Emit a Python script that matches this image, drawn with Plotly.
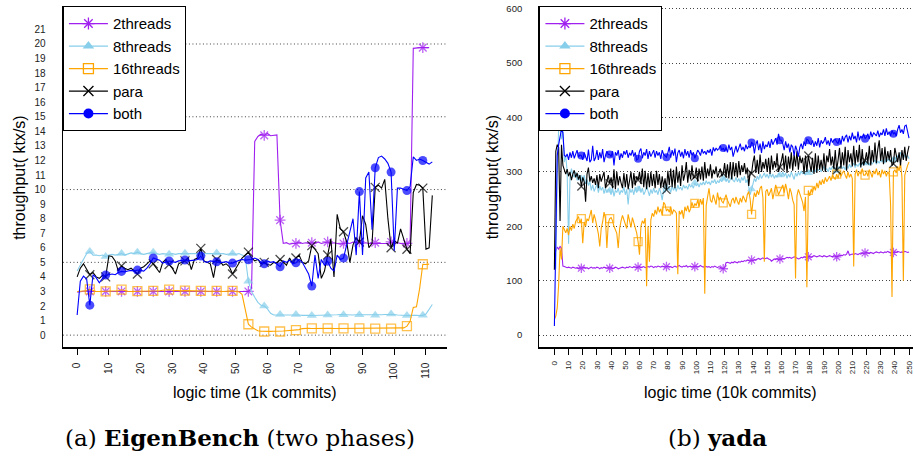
import plotly.graph_objects as go

# ---------------- data: left panel (EigenBench), x = logic time in 1k commits ----------------
series_names = ["2threads", "8threads", "16threads", "para", "both"]

eigen_2threads = [
    2.95, 3.0, 3.0, 3.05, 3.0, 3.0, 2.98, 3.02, 3.0, 3.0,
    3.02, 3.0, 2.98, 3.0, 3.0, 3.02, 3.0, 3.0, 2.98, 3.0,
    3.0, 3.02, 3.0, 3.0, 3.0, 2.98, 3.0, 3.02, 3.0, 3.0,
    3.0, 3.0, 2.98, 3.0, 3.0, 3.02, 3.0, 3.0, 3.0, 3.0,
    2.98, 3.0, 3.02, 3.0, 3.0, 3.0, 3.0, 3.0, 2.98, 3.0,
    3.0, 3.02, 3.0, 3.0, 3.0, 3.2, 13.3, 13.65, 13.8, 13.72,
    13.85, 13.7, 13.75, 13.75, 7.9, 6.3, 6.35, 6.25, 6.3, 6.3,
    6.4, 6.3, 6.35, 6.3, 6.35, 6.3, 6.4, 6.3, 6.35, 6.4,
    6.3, 6.35, 6.3, 6.25, 6.3, 6.35, 6.3, 6.4, 6.35, 6.4,
    6.3, 6.35, 6.3, 6.3, 6.35, 6.3, 6.35, 6.3, 6.3, 6.4,
    6.3, 6.35, 6.3, 6.25, 6.3, 6.35, 19.7, 19.75, 19.75, 19.75,
    19.75, 19.75,
]
eigen_8threads = [
    4.4, 4.8, 5.3, 5.6, 5.75, 5.5, 5.5, 5.45, 5.5, 5.4,
    5.5, 5.55, 5.5, 5.55, 5.6, 5.5, 5.6, 5.65, 5.6, 5.7,
    5.6, 5.55, 5.6, 5.65, 5.7, 5.6, 5.55, 5.6, 5.55, 5.55,
    5.6, 5.55, 5.6, 5.6, 5.62, 5.6, 5.65, 5.6, 5.6, 5.6,
    5.62, 5.6, 5.65, 5.6, 5.65, 5.6, 5.6, 5.55, 5.6, 5.6,
    5.55, 5.6, 5.5, 5.4, 3.7, 3.0, 2.6, 2.25, 2.05, 2.0,
    1.8, 1.5, 1.38, 1.38, 1.42, 1.4, 1.38, 1.4, 1.4, 1.42,
    1.38, 1.36, 1.38, 1.36, 1.35, 1.35, 1.36, 1.38, 1.36, 1.38,
    1.4, 1.38, 1.4, 1.42, 1.4, 1.4, 1.38, 1.38, 1.4, 1.4,
    1.38, 1.36, 1.36, 1.38, 1.36, 1.38, 1.4, 1.42, 1.42, 1.45,
    1.42, 1.38, 1.36, 1.35, 1.35, 1.36, 1.38, 1.36, 1.35, 1.36,
    1.45, 1.75, 2.1,
]
eigen_16threads = [
    3.0, 3.0, 3.02, 3.05, 3.15, 3.05, 3.0, 3.0, 3.0, 3.0,
    3.0, 3.02, 3.05, 3.05, 3.12, 3.05, 3.02, 3.0, 3.0, 3.02,
    3.0, 3.0, 3.02, 3.0, 3.04, 3.02, 3.05, 3.08, 3.1, 3.12,
    3.08, 3.05, 3.05, 3.04, 3.06, 3.05, 3.04, 3.02, 3.02, 3.04,
    3.02, 3.0, 3.02, 3.02, 3.04, 3.02, 3.0, 3.02, 3.02, 3.04,
    3.0, 2.98, 2.8, 1.8, 0.75, 0.55, 0.4, 0.3, 0.27, 0.25,
    0.25, 0.26, 0.27, 0.26, 0.25, 0.28, 0.3, 0.32, 0.34, 0.35,
    0.38, 0.45, 0.48, 0.47, 0.46, 0.47, 0.48, 0.47, 0.46, 0.47,
    0.47, 0.46, 0.46, 0.47, 0.47, 0.48, 0.47, 0.46, 0.46, 0.47,
    0.46, 0.47, 0.46, 0.45, 0.45, 0.46, 0.47, 0.46, 0.45, 0.45,
    0.46, 0.45, 0.47, 0.5, 0.62, 0.95, 1.9, 1.95, 3.2, 4.87,
    4.85, 4.88,
]
eigen_para = [
    4.0, 4.6, 4.9, 4.5, 4.15, 4.3, 4.0, 3.9, 4.1, 4.0,
    5.45, 5.4, 5.1, 4.4, 4.75, 4.6, 4.5, 4.6, 4.4, 4.2,
    4.6, 4.7, 4.9, 5.1, 4.9, 4.6, 4.3, 5.0, 5.2, 4.85,
    4.6, 4.2, 4.9, 5.0, 5.1, 5.3, 4.5, 5.2, 5.3, 5.96,
    5.1, 5.0, 4.9, 3.95, 5.2, 5.1, 4.8, 4.9, 4.7, 4.2,
    4.6, 4.9, 5.3, 5.5, 5.7, 5.3, 5.1, 5.2, 4.9, 5.0,
    4.85, 4.8, 5.0, 4.95, 5.2, 5.05, 4.8, 5.3, 4.9, 5.3,
    5.5, 5.0, 4.9, 5.1, 6.15, 5.9, 5.6, 3.9, 4.4, 5.5,
    6.6, 4.0, 8.3, 7.3, 7.1, 6.4, 5.0, 6.2, 6.7, 6.4,
    8.2, 7.6, 6.0, 6.3, 10.15, 10.3, 10.1, 10.7, 8.0, 6.0,
    6.5, 6.3, 7.3, 6.6, 5.9, 5.6, 9.8, 10.35, 10.3, 10.1,
    5.9, 6.0, 9.6,
]
eigen_both = [
    1.38, 3.7, 4.05, 3.85, 2.06, 4.15, 3.95, 3.6, 3.9, 4.13,
    4.15, 4.2, 4.15, 4.3, 4.38, 4.35, 4.4, 4.45, 4.4, 4.47,
    4.45, 4.4, 4.6, 4.9, 5.3, 5.2, 5.15, 4.95, 5.0, 5.09,
    5.05, 5.0, 5.1, 5.15, 5.16, 5.1, 5.1, 5.15, 5.2, 5.43,
    5.05, 5.0, 5.1, 5.05, 5.04, 5.0, 5.0, 5.05, 4.95, 4.95,
    5.05, 5.1, 5.2, 5.15, 5.18, 5.2, 5.3, 5.2, 5.0, 4.9,
    5.1, 5.0, 5.05, 4.9, 4.7, 5.1, 5.0, 5.15, 4.9, 4.97,
    5.2, 5.0, 4.6, 4.2, 3.37, 5.5, 3.9, 5.2, 4.8, 5.08,
    4.6, 4.4, 5.5, 5.2, 5.3, 6.2, 7.2, 8.0, 5.5, 9.86,
    5.5, 10.8, 11.2, 7.25, 11.5, 12.2, 12.3, 12.1, 11.8, 11.2,
    5.8, 10.1, 10.1, 10.0, 9.93, 10.2, 12.25, 12.0, 12.1, 12.0,
    11.9, 11.75, 11.9,
]

# ---------------- data: right panel (yada), x = logic time in 10k commits ----------------
yada_2threads = [
    148, 155, 162, 158, 163, 160, 127, 126, 125, 124,
    125, 124, 123, 125, 124, 123, 124, 122, 124, 123,
    124, 125, 123, 124, 122, 124, 125, 123, 124, 123,
    125, 124, 122, 124, 123, 125, 124, 123, 124, 123,
    124, 122, 123, 125, 124, 122, 123, 124, 125, 124,
    123, 125, 124, 126, 125, 124, 126, 125, 124, 125,
    126, 124, 125, 126, 124, 125, 126, 125, 127, 126,
    124, 126, 125, 127, 126, 125, 127, 126, 125, 126,
    127, 125, 126, 124, 126, 127, 125, 126, 128, 126,
    125, 127, 126, 128, 125, 126, 127, 125, 126, 126,
    127, 125, 126, 128, 126, 125, 127, 126, 125, 126,
    124, 126, 125, 127, 125, 124, 126, 124, 123, 122,
    124, 133, 134, 133, 132, 134, 133, 135, 134, 133,
    135, 134, 136, 135, 137, 136, 138, 137, 136, 138,
    137, 139, 138, 140, 141, 139, 141, 142, 140, 141,
    142, 140, 139, 136, 138, 140, 139, 141, 138, 140,
    139, 141, 140, 142, 143, 142, 143, 141, 142, 144,
    143, 142, 140, 141, 143, 142, 144, 143, 142, 144,
    145, 143, 144, 146, 145, 144, 145, 146, 145, 144,
    146, 145, 144, 145, 146, 145, 144, 146, 145, 144,
    145, 146, 147, 146, 148, 147, 149, 155, 147, 148,
    149, 148, 150, 149, 148, 150, 149, 151, 150, 151,
    152, 151, 150, 152, 151, 150, 152, 153, 152, 151,
    153, 152, 151, 153, 152, 154, 152, 151, 153, 152,
    153, 152, 154, 153, 152, 153, 152, 154, 153, 152,
    153,
]
yada_8threads = [
    150, 122, 300, 380, 382, 360, 376, 318, 330, 300,
    168, 288, 306, 295, 290, 300, 285, 295, 290, 288,
    282, 294, 278, 286, 275, 282, 266, 276, 264, 270,
    278, 262, 274, 266, 272, 260, 270, 262, 268, 266,
    258, 270, 255, 266, 262, 270, 258, 266, 262, 272,
    258, 268, 240, 270, 262, 268, 258, 272, 262, 268,
    274, 262, 270, 258, 264, 274, 262, 256, 268, 260,
    270, 262, 266, 258, 270, 262, 248, 268, 262, 272,
    266, 270, 262, 274, 266, 272, 264, 276, 268, 272,
    266, 276, 270, 274, 268, 278, 272, 276, 270, 280,
    274, 278, 272, 280, 276, 282, 276, 284, 278, 282,
    276, 284, 280, 286, 278, 284, 280, 286, 282, 288,
    290, 282, 288, 280, 286, 292, 284, 282, 290, 282,
    288, 280, 290, 284, 292, 280, 286, 270, 258, 268,
    278, 288, 282, 292, 286, 296, 288, 294, 298, 290,
    296, 288, 298, 290, 296, 288, 294, 290, 298, 294,
    292, 300, 292, 298, 288, 296, 290, 300, 292, 286,
    298, 292, 300, 294, 302, 296, 300, 294, 304, 298,
    302, 306, 298, 304, 300, 308, 302, 306, 300, 304,
    310, 302, 306, 300, 308, 304, 310, 304, 308, 302,
    310, 306, 312, 306, 310, 304, 312, 306, 314, 308,
    312, 316, 308, 314, 310, 316, 310, 318, 312, 316,
    314, 318, 312, 320, 314, 318, 322, 314, 320, 316,
    322, 318, 324, 316, 326, 320, 324, 318, 326, 322,
    328, 322, 330, 326, 336, 330, 324, 332, 326, 330,
    324,
]
yada_16threads = [
    29, 35, 50, 93, 160, 139, 200, 192, 188, 196,
    184, 200, 192, 204, 196, 209, 214, 218, 206, 214,
    169, 208, 200, 214, 210, 222, 230, 206, 222, 212,
    200, 186, 163, 196, 208, 226, 214, 160, 206, 214,
    216, 210, 200, 194, 187, 160, 196, 210, 220, 212,
    204, 196, 222, 210, 198, 216, 208, 200, 188, 172,
    148, 200, 210, 205, 215, 90, 200, 135, 212, 224,
    218, 230, 222, 236, 226, 232, 220, 244, 240, 228,
    232, 226, 236, 222, 230, 228, 224, 112, 228, 222,
    230, 214, 236, 228, 238, 226, 232, 244, 234, 242,
    238, 248, 236, 250, 240, 252, 76, 238, 256, 270,
    248, 244, 258, 250, 240, 262, 248, 254, 246, 243,
    250, 258, 248, 240, 236, 248, 252, 242, 254, 246,
    240, 252, 244, 256, 248, 244, 258, 264, 250, 222,
    246, 262, 254, 266, 258, 270, 274, 252, 135, 264,
    268, 256, 262, 270, 250, 262, 276, 268, 258, 264,
    270, 276, 262, 278, 266, 250, 270, 262, 248, 240,
    104, 256, 268, 260, 250, 244, 228, 254, 88, 266,
    256, 268, 262, 274, 266, 280, 270, 284, 276, 286,
    278, 290, 282, 288, 292, 284, 294, 290, 286, 296,
    288, 300, 292, 298, 302, 294, 288, 300, 290, 296,
    288, 126, 296, 304, 292, 300, 296, 306, 294, 294,
    300, 292, 304, 298, 290, 302, 296, 306, 294, 300,
    290, 304, 296, 302, 292, 300, 296, 240, 70, 300,
    304, 298, 310, 302, 316, 290, 100, 294, 306, 312,
    318,
]
yada_para = [
    120, 338, 350, 345, 210, 350, 312, 302, 296, 305,
    292, 300, 285, 296, 303, 290, 298, 286, 294, 273,
    290, 282, 245, 296, 308, 282, 292, 280, 288, 276,
    294, 270, 296, 282, 290, 300, 270, 286, 294, 279,
    290, 270, 305, 268, 300, 275, 292, 280, 270, 298,
    272, 296, 268, 284, 300, 270, 298, 275, 292, 285,
    300, 278, 306, 272, 302, 268, 298, 272, 300, 274,
    296, 270, 302, 276, 296, 270, 292, 272, 288, 267,
    302, 276, 306, 272, 304, 270, 310, 280, 300, 274,
    312, 284, 296, 318, 280, 304, 286, 312, 288, 291,
    308, 282, 306, 286, 310, 284, 318, 288, 306, 292,
    314, 288, 304, 296, 310, 290, 300, 306, 292, 297,
    316, 290, 314, 288, 318, 286, 318, 292, 316, 290,
    320, 294, 312, 300, 316, 296, 308, 274, 300, 297,
    318, 330, 298, 322, 296, 332, 300, 318, 306, 324,
    300, 326, 296, 330, 304, 320, 308, 334, 300, 309,
    320, 334, 304, 330, 298, 328, 306, 336, 302, 332,
    310, 338, 304, 330, 316, 326, 296, 330, 300, 330,
    314, 300, 326, 296, 334, 298, 330, 304, 322, 302,
    334, 300, 330, 318, 342, 312, 328, 306, 340, 303,
    322, 344, 306, 336, 312, 346, 302, 340, 318, 334,
    310, 348, 312, 340, 318, 350, 308, 342, 312, 321,
    336, 316, 348, 312, 340, 318, 354, 316, 342, 358,
    320, 344, 314, 346, 318, 338, 322, 340, 312, 315,
    344, 330, 318, 336, 312, 340, 322, 346, 320, 336,
    348,
]
yada_both = [
    17, 200, 330, 350, 362, 378, 372, 330, 328, 333,
    322, 336, 326, 338, 325, 333, 340, 327, 331, 330,
    322, 336, 328, 320, 341, 318, 322, 348, 320, 326,
    340, 322, 336, 325, 342, 318, 330, 338, 332, 332,
    328, 338, 312, 336, 330, 340, 322, 334, 326, 338,
    332, 340, 326, 335, 330, 340, 328, 336, 322, 324,
    338, 343, 325, 336, 330, 342, 324, 338, 328, 334,
    340, 326, 338, 330, 336, 324, 340, 332, 330, 327,
    335, 346, 326, 340, 330, 343, 318, 335, 340, 328,
    337, 325, 342, 330, 338, 326, 340, 330, 336, 325,
    332, 340, 336, 330, 342, 334, 338, 332, 340, 335,
    342, 330, 345, 338, 344, 340, 343, 348, 340, 344,
    338, 345, 336, 350, 340, 346, 328, 340, 348, 336,
    346, 352, 340, 346, 338, 350, 342, 348, 344, 354,
    352, 334, 350, 358, 340, 352, 335, 356, 342, 350,
    346, 356, 344, 360, 350, 356, 362, 350, 370, 358,
    358, 352, 340, 356, 344, 352, 336, 350, 346, 330,
    348, 340, 328, 345, 352, 342, 356, 348, 360, 358,
    352, 350, 358, 346, 356, 348, 362, 345, 358, 352,
    356, 364, 350, 358, 348, 362, 354, 358, 360, 355,
    352, 362, 350, 366, 356, 364, 368, 354, 366, 358,
    372, 360, 366, 354, 374, 358, 366, 362, 370, 361,
    364, 370, 360, 374, 364, 372, 368, 366, 376, 364,
    372, 368, 378, 366, 380, 368, 374, 366, 376, 370,
    372, 366, 378, 386, 372, 378, 370, 384, 386, 375,
    362,
]

left_xticks = list(range(0, 111, 10))
left_yticks = list(range(0, 22))
left_ygrid = [0, 5, 10, 15, 20]
right_xticks = list(range(0, 251, 10))
right_yticks = list(range(0, 601, 100))

# ---------------- styling ----------------
W, H = 914, 464
colors = ["#A020F0", "#87CEEB", "#FFA500", "#000000", "#0000FF"]
symbols = ["asterisk-open", "triangle-up", "square-open", "x-thin-open", "circle"]
open_sym = [True, False, True, True, False]
FONT = "Liberation Sans, Arial, sans-serif"
GRIDCOL = "#444444"
GRIDDASH = "1px,2.5px"

left_data = [eigen_2threads, eigen_8threads, eigen_16threads, eigen_para, eigen_both]
right_data = [yada_2threads, yada_8threads, yada_16threads, yada_para, yada_both]

fig = go.Figure()


def marker_style(k, size):
    return dict(symbol=symbols[k], size=size, color=colors[k],
                line=dict(color=colors[k], width=1.3 if open_sym[k] else 0))


def add_series(vals, k, xa, ya, legend, every, offset, msize):
    n = len(vals)
    sizes = [msize if (i % every) == offset else 0 for i in range(n)]
    # data trace (lines with a marker every few samples)
    fig.add_trace(go.Scatter(
        x=list(range(n)), y=vals, name=series_names[k],
        mode="lines+markers",
        line=dict(color=colors[k], width=1.1),
        marker=marker_style(k, sizes),
        xaxis=xa, yaxis=ya, legend=legend, showlegend=False, hoverinfo="skip",
    ))
    # legend-only entry (no drawable points)
    fig.add_trace(go.Scatter(
        x=[None], y=[None], name=series_names[k], mode="lines+markers",
        line=dict(color=colors[k], width=1.3),
        marker=marker_style(k, 10),
        xaxis=xa, yaxis=ya, legend=legend, showlegend=True, hoverinfo="skip",
    ))


for k, vals in enumerate(left_data):
    add_series(vals, k, "x", "y", "legend", 5, 4, 9)
for k, vals in enumerate(right_data):
    add_series(vals, k, "x2", "y2", "legend2", 20, 19, 8)

ydom = [1 - 346.7 / H, 1 - 3.3 / H]
left_dom = [63 / W, 447 / W]
right_dom = [540 / W, 1.0]

legend_style = dict(y=1 - 3.3 / H, xanchor="left", yanchor="top",
                    bgcolor="white", bordercolor="black", borderwidth=1,
                    font=dict(family=FONT, size=15, color="black"),
                    itemwidth=39, tracegroupgap=0)

fig.update_layout(
    width=W, height=H,
    margin=dict(l=0, r=0, t=0, b=0),
    paper_bgcolor="white", plot_bgcolor="white",
    showlegend=True,
    xaxis=dict(domain=left_dom, anchor="y", range=[-4.48, 116.48],
               tickmode="array", tickvals=left_xticks, tickangle=-90,
               ticks="outside", ticklen=6, tickcolor="black", tickwidth=1,
               ticklabelstandoff=4,
               tickfont=dict(family=FONT, size=10, color="#222"),
               showline=True, linecolor="black", linewidth=1.3,
               showgrid=False, zeroline=False),
    yaxis=dict(domain=ydom, anchor="x", range=[-0.846, 22.59],
               tickmode="array", tickvals=left_yticks, ticks="",
               ticklabelstandoff=14, ticklabeloverflow="allow",
               tickfont=dict(family=FONT, size=10, color="#222"),
               showline=True, linecolor="black", linewidth=1.3,
               showgrid=False, zeroline=False),
    xaxis2=dict(domain=right_dom, anchor="y2", range=[-10.56, 252.8],
                tickmode="array", tickvals=right_xticks, tickangle=-90,
                ticks="outside", ticklen=6, tickcolor="black", tickwidth=1,
                ticklabelstandoff=3, ticklabeloverflow="allow",
                tickfont=dict(family=FONT, size=8, color="#222"),
                showline=True, linecolor="black", linewidth=1.3,
                showgrid=False, zeroline=False),
    yaxis2=dict(domain=ydom, anchor="x2", range=[-22.6, 604.3],
                tickmode="array", tickvals=right_yticks, ticks="",
                ticklabelstandoff=14, ticklabeloverflow="allow",
                tickfont=dict(family=FONT, size=9.5, color="#222"),
                showline=True, linecolor="black", linewidth=1.3,
                showgrid=True, gridcolor=GRIDCOL, gridwidth=1, griddash=GRIDDASH,
                zeroline=False),
    legend=dict(x=63 / W, **legend_style),
    legend2=dict(x=540 / W, **legend_style),
)

# dotted horizontal gridlines of the left panel (every 5 units)
for g in left_ygrid:
    fig.add_shape(type="line", xref="x domain", yref="y", x0=0, x1=1, y0=g, y1=g,
                  line=dict(color=GRIDCOL, width=1, dash=GRIDDASH), layer="below")

ann_font = dict(family=FONT, size=16, color="black")
cap_font = dict(family="DejaVu Serif, serif", size=23, color="black")
annotations = [
    dict(text="throughput( ktx/s)", x=20 / W, y=1 - 175 / H, textangle=-90, font=ann_font),
    dict(text="throughput( ktx/s)", x=493 / W, y=1 - 175 / H, textangle=-90, font=ann_font),
    dict(text="logic time (1k commits)", x=255 / W, y=1 - 392 / H, font=ann_font),
    dict(text="logic time (10k commits)", x=731 / W, y=1 - 392 / H, font=ann_font),
    dict(text="(a) <b>EigenBench</b> (two phases)", x=240 / W, y=1 - 437 / H, font=cap_font),
    dict(text="(b) <b>yada</b>", x=718 / W, y=1 - 437 / H, font=cap_font),
]
for a in annotations:
    fig.add_annotation(xref="paper", yref="paper", showarrow=False,
                       xanchor="center", yanchor="middle", **a)

fig.write_html("out.html", config={"displayModeBar": False, "staticPlot": True},
               post_script="document.body.style.margin='0';document.body.style.overflow='hidden';")
